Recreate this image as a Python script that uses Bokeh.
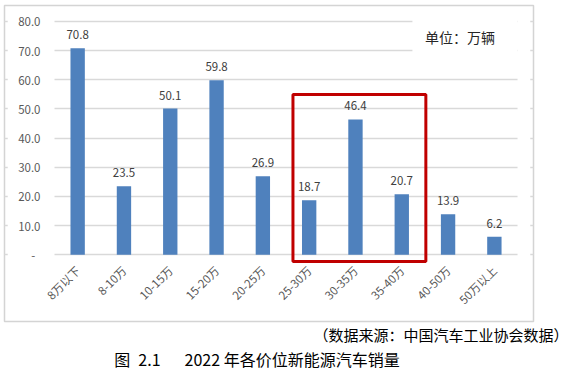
from bokeh.plotting import figure
from bokeh.models import (ColumnDataSource, Range1d, FixedTicker, LabelSet, Label,
                          BoxAnnotation, Title)
from bokeh.core.properties import value
from bokeh.embed import file_html
from bokeh.resources import INLINE
import math

categories = ["8万以下", "8-10万", "10-15万", "15-20万", "20-25万",
              "25-30万", "30-35万", "35-40万", "40-50万", "50万以上"]
sales = [70.8, 23.5, 50.1, 59.8, 26.9, 18.7, 46.4, 20.7, 13.9, 6.2]
value_labels = ["70.8", "23.5", "50.1", "59.8", "26.9", "18.7", "46.4", "20.7", "13.9", "6.2"]
y_ticks = [0, 10, 20, 30, 40, 50, 60, 70, 80]
y_tick_labels = ["-\u00a0\u00a0", "10.0", "20.0", "30.0", "40.0", "50.0", "60.0", "70.0", "80.0"]
unit_text = "单位：万辆"
source_text = "（数据来源：中国汽车工业协会数据）"
caption_text = "图\u20022.1\u3000\u20022022 年各价位新能源汽车销量"
# highlighted group (25-30万 .. 35-40万), in category-axis units
hl_left, hl_right, hl_top, hl_bottom = 5.15, 8.02, 54.9, -2.35

FONT = "Noto Sans CJK SC"
BAR = "#4F81BD"
GRID = "#D9D9D9"
TXT = "#404040"

n = len(categories)
x_pos = [i + 0.5 for i in range(n)]
src = ColumnDataSource(dict(x=x_pos, val=sales, lab=value_labels))

X0, X1 = -1.08, n + 0.345       # chart box edges in category units
Y0, Y1 = -22.9, 85.45           # chart box edges in value units

p = figure(width=564, height=370, x_range=Range1d(X0, X1), y_range=Range1d(Y0, Y1),
           output_backend="svg", toolbar_location=None,
           min_border_left=4, min_border_right=31, min_border_top=5,
           min_border_bottom=48)
p.outline_line_color = "#D4D4D4"
p.outline_line_width = 1.5
p.background_fill_color = "white"
p.border_fill_color = "white"

p.xgrid.grid_line_color = None
p.ygrid.ticker = FixedTicker(ticks=y_ticks)
p.ygrid.grid_line_color = GRID
p.ygrid.grid_line_width = 1.3

# masks so gridlines only span the plot area
for l, r, b, t in [(X0 + 0.07, 0, Y0 + 1.0, Y1 - 1.0), (n, X1 - 0.07, Y0 + 1.0, Y1 - 1.0),
                   (7.73, n, 65, 82)]:
    p.add_layout(BoxAnnotation(left=l, right=r, bottom=b, top=t, fill_color="white",
                               fill_alpha=1.0, line_color=None, level="underlay"))

p.vbar(x="x", top="val", width=0.31, source=src, color=BAR, line_color=None)

p.yaxis.fixed_location = 0
p.yaxis.ticker = FixedTicker(ticks=y_ticks)
p.yaxis.major_label_overrides = {t: l for t, l in zip(y_ticks, y_tick_labels)}
p.yaxis.axis_line_color = None
p.yaxis.major_tick_line_color = None
p.yaxis.minor_tick_line_color = None
p.yaxis.major_tick_out = 0
p.yaxis.major_label_standoff = 14
p.yaxis.major_label_text_font = FONT
p.yaxis.major_label_text_font_size = "11.5px"
p.yaxis.major_label_text_color = "#595959"

p.xaxis.fixed_location = -3.2
p.xaxis.ticker = FixedTicker(ticks=x_pos)
p.xaxis.major_label_overrides = {x: c for x, c in zip(x_pos, categories)}
p.xaxis.axis_line_color = None
p.xaxis.major_tick_line_color = None
p.xaxis.minor_tick_line_color = None
p.xaxis.major_tick_out = 0
p.xaxis.major_label_standoff = 4
p.xaxis.major_label_orientation = math.pi / 4
p.xaxis.major_label_text_font = FONT
p.xaxis.major_label_text_font_size = "11.5px"
p.xaxis.major_label_text_color = "#595959"

p.add_layout(LabelSet(x="x", y="val", text="lab", source=src, y_offset=9,
                      text_align="center", text_baseline="bottom",
                      text_font=value(FONT), text_font_size="11.5px", text_color=TXT))

p.add_layout(Label(x=8.0, y=74.5, text=unit_text, text_align="left",
                   text_baseline="middle", text_font=FONT,
                   text_font_size="14px", text_color="#262626"))

p.add_layout(BoxAnnotation(left=hl_left, right=hl_right, top=hl_top, bottom=hl_bottom,
                           fill_color=None, fill_alpha=0, line_color="#C00000",
                           line_alpha=1.0, line_width=3))

p.add_layout(Title(text=source_text, align="right", offset=-35, standoff=0,
                   text_font=FONT, text_font_size="15px", text_font_style="normal",
                   text_color="#000000"), "below")
p.add_layout(Title(text=caption_text + "\u3000\u2002", align="center", offset=0, standoff=0,
                   text_font=FONT, text_font_size="16px", text_font_style="normal",
                   text_color="#000000"), "below")

open("out.html", "w").write(file_html(p, INLINE))
